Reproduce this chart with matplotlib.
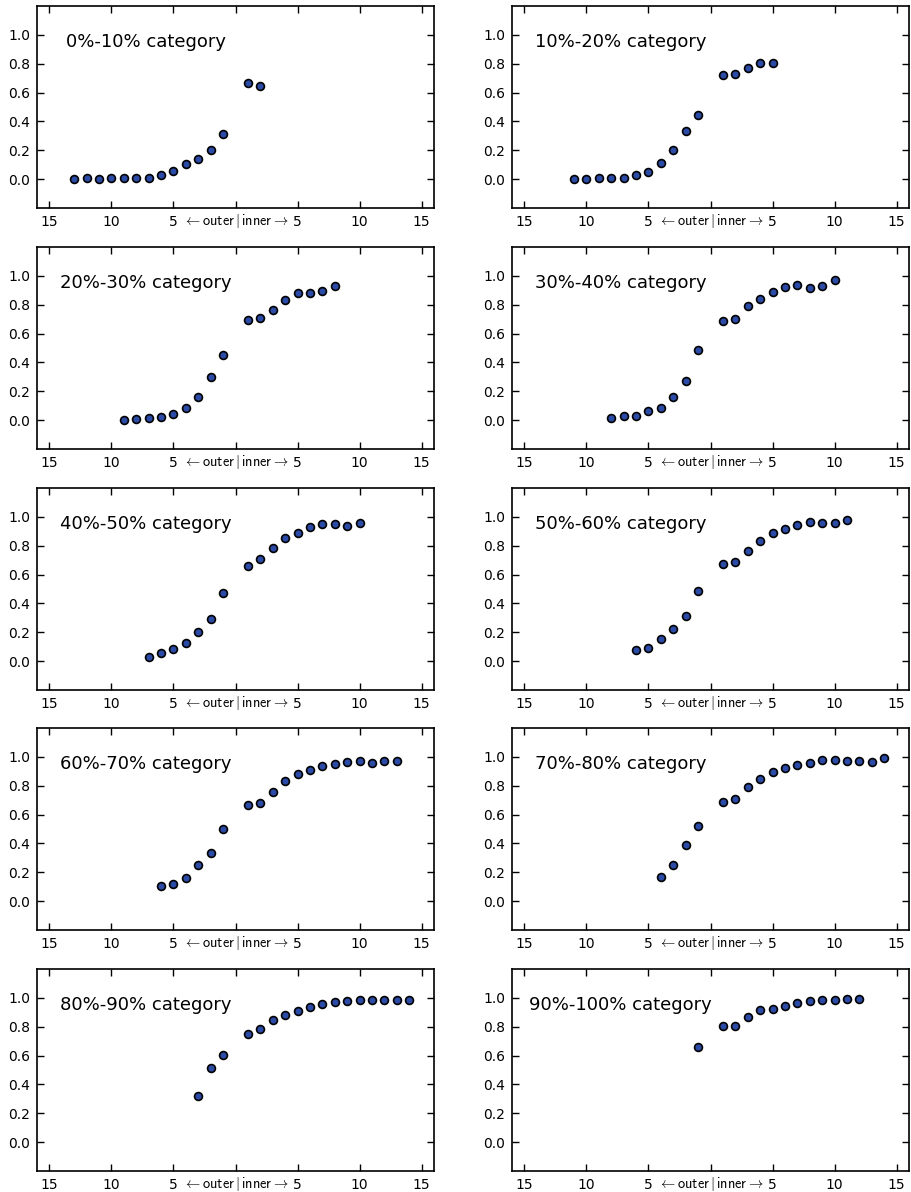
import matplotlib
matplotlib.use("Agg")
import matplotlib.pyplot as plt
import numpy as np

plt.rcParams['mathtext.fontset'] = 'cm'

# category names
categories = ["0%-10%", "10%-20%", "20%-30%", "30%-40%", "40%-50%",
              "50%-60%", "60%-70%", "70%-80%", "80%-90%", "90%-100%"]

# outer values, read left to right (farthest outer -> position 1)
outer_0 = [0.0, 0.005, 0.002, 0.005, 0.005, 0.005, 0.01, 0.028, 0.055, 0.106, 0.143, 0.202, 0.313]
outer_1 = [0.0, 0.0, 0.005, 0.005, 0.011, 0.028, 0.05, 0.113, 0.205, 0.333, 0.446]
outer_2 = [0.002, 0.009, 0.014, 0.023, 0.044, 0.083, 0.159, 0.299, 0.45]
outer_3 = [0.016, 0.032, 0.032, 0.06, 0.087, 0.163, 0.269, 0.485]
outer_4 = [0.032, 0.057, 0.085, 0.124, 0.2, 0.294, 0.474]
outer_5 = [0.074, 0.09, 0.156, 0.223, 0.313, 0.483]
outer_6 = [0.106, 0.12, 0.159, 0.253, 0.331, 0.501]
outer_7 = [0.17, 0.253, 0.389, 0.524]
outer_8 = [0.32, 0.517, 0.602]
outer_9 = [0.657]

# inner values, position 1 upward
inner_0 = [0.664, 0.646]
inner_1 = [0.72, 0.729, 0.768, 0.805, 0.807]
inner_2 = [0.697, 0.706, 0.766, 0.832, 0.878, 0.878, 0.894, 0.933]
inner_3 = [0.685, 0.703, 0.793, 0.839, 0.887, 0.926, 0.94, 0.917, 0.933, 0.968]
inner_4 = [0.657, 0.71, 0.786, 0.855, 0.89, 0.931, 0.952, 0.949, 0.94, 0.954]
inner_5 = [0.674, 0.685, 0.766, 0.834, 0.89, 0.913, 0.945, 0.963, 0.959, 0.956, 0.979]
inner_6 = [0.664, 0.678, 0.756, 0.83, 0.88, 0.906, 0.938, 0.952, 0.963, 0.968, 0.959, 0.97, 0.968]
inner_7 = [0.69, 0.71, 0.793, 0.848, 0.894, 0.926, 0.943, 0.956, 0.975, 0.977, 0.972, 0.972, 0.966, 0.993]
inner_8 = [0.752, 0.784, 0.844, 0.88, 0.908, 0.94, 0.954, 0.968, 0.975, 0.982, 0.982, 0.982, 0.982, 0.982]
inner_9 = [0.805, 0.802, 0.869, 0.913, 0.92, 0.947, 0.966, 0.975, 0.982, 0.986, 0.993, 0.995]

outers = [outer_0, outer_1, outer_2, outer_3, outer_4, outer_5, outer_6, outer_7, outer_8, outer_9]
inners = [inner_0, inner_1, inner_2, inner_3, inner_4, inner_5, inner_6, inner_7, inner_8, inner_9]

xtick_pos = [-15, -10, -5, 0, 5, 10, 15]
xtick_labels = ["15", "10", "5", "", "5", "10", "15"]
center_label = r"$\leftarrow \mathsf{outer}\,|\,\mathsf{inner} \rightarrow$"
ytick_pos = [0.0, 0.2, 0.4, 0.6, 0.8, 1.0]

W, H = 911, 1192
fig = plt.figure(figsize=(W / 100, H / 100), dpi=100)

col_left = [37, 512]
row_top = [6, 247, 488, 728, 969]
ax_w, ax_h = 397, 202

for i, name in enumerate(categories):
    r, c = i // 2, i % 2
    ax = fig.add_axes([col_left[c] / W, 1 - (row_top[r] + ax_h) / H, ax_w / W, ax_h / H])
    out = outers[i]
    inn = inners[i]
    x = np.concatenate([np.arange(-len(out), 0), np.arange(1, len(inn) + 1)])
    y = np.concatenate([out, inn])
    ax.scatter(x, y, s=32, c='#2b4ba6', edgecolors='black', linewidths=1.2, zorder=3)
    ax.set_xlim(-16, 16)
    ax.set_ylim(-0.2, 1.2)
    ax.set_xticks(xtick_pos)
    ax.set_xticklabels(xtick_labels)
    ax.set_yticks(ytick_pos)
    ax.set_yticklabels(["%.1f" % v for v in ytick_pos])
    ax.tick_params(direction='in', top=True, right=True, length=5, width=1,
                   labelsize=10, pad=5)
    for sp in ax.spines.values():
        sp.set_linewidth(1.2)
    # middle tick label, placed by hand so the mathtext lines up with the digits
    ax.annotate(center_label, xy=(0, 0), xycoords=ax.get_xaxis_transform(),
                xytext=(0, -9.4), textcoords='offset points',
                ha='center', va='center', fontsize=10.3, annotation_clip=False)
    ax.text(0.274, 0.82, name + " category", transform=ax.transAxes,
            ha='center', va='center', fontsize=13)

fig.savefig("out.png", dpi=100)
